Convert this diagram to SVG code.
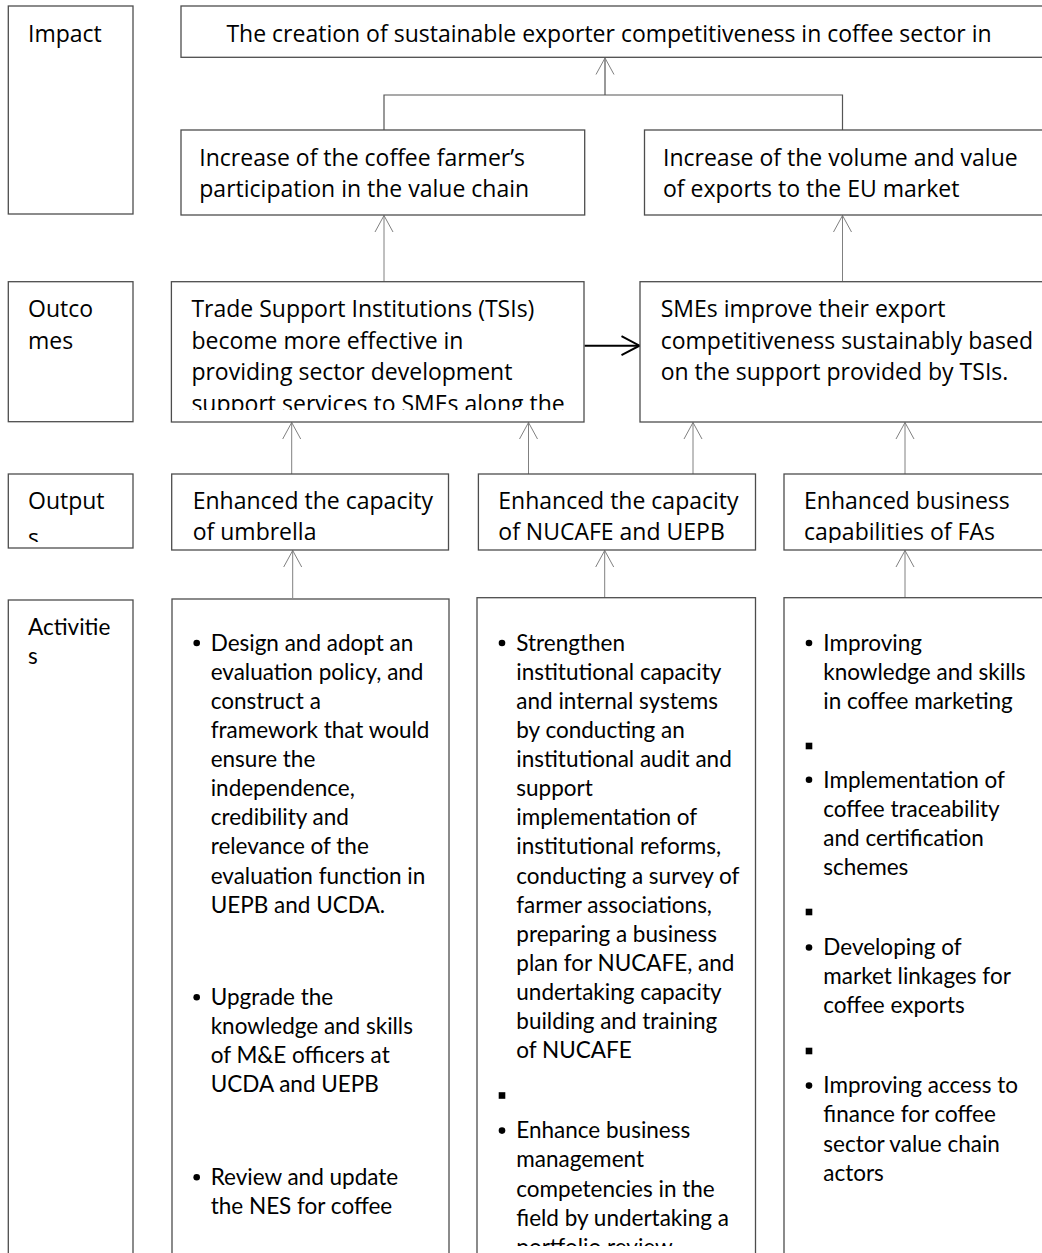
<svg xmlns="http://www.w3.org/2000/svg" width="1042" height="1253" viewBox="0 0 1042 1253">
<style>
.box{fill:#fff;stroke:#4d4d4d;stroke-width:1.3}
.t{font-family:"Open Sans","Noto Sans",sans-serif;font-size:23px;fill:#000}
.a{font-family:Lato,"Open Sans",sans-serif;font-size:22.5px;fill:#000}
.con{fill:none;stroke:#808080;stroke-width:1}
.dk{fill:none;stroke:#555;stroke-width:1.2}
.bl{fill:#000}
</style>
<defs>
<marker id="ah" markerUnits="userSpaceOnUse" orient="auto" overflow="visible" markerWidth="20" markerHeight="20" refX="0" refY="0">
<path d="M-16.5,-9 L0,0 L-16.5,9" fill="none" stroke="#808080" stroke-width="1"/>
</marker>
<marker id="ahb" markerUnits="userSpaceOnUse" orient="auto" overflow="visible" markerWidth="24" markerHeight="24" refX="0" refY="0">
<path d="M-18,-9.5 L0,0 L-18,9.5" fill="none" stroke="#000" stroke-width="2"/>
</marker>
<clipPath id="cOut1"><rect x="172" y="282" width="412" height="128"/></clipPath>
<clipPath id="cOutLbl"><rect x="8" y="474" width="125" height="68"/></clipPath>
<clipPath id="cOutputs"><rect x="170" y="474" width="880" height="69"/></clipPath>
<clipPath id="cAct2"><rect x="477" y="598" width="279" height="648"/></clipPath>
</defs>

<g id="connectors">
<path class="dk" d="M384,130 V95 H842.5 V130"/>
<line class="dk" x1="605" y1="95" x2="605" y2="58" marker-end="url(#ah)"/>
<line class="con" x1="384" y1="281.7" x2="384" y2="215.5" marker-end="url(#ah)"/>
<line class="con" x1="842.5" y1="281.7" x2="842.5" y2="215.5" marker-end="url(#ah)"/>
<line class="con" x1="291.7" y1="474" x2="291.7" y2="422.5" marker-end="url(#ah)"/>
<line class="con" x1="528.5" y1="474" x2="528.5" y2="422.5" marker-end="url(#ah)"/>
<line class="con" x1="693" y1="474" x2="693" y2="422.5" marker-end="url(#ah)"/>
<line class="con" x1="905" y1="474" x2="905" y2="422.5" marker-end="url(#ah)"/>
<line class="con" x1="292.7" y1="598" x2="292.7" y2="550.5" marker-end="url(#ah)"/>
<line class="con" x1="604.7" y1="598" x2="604.7" y2="550.5" marker-end="url(#ah)"/>
<line class="con" x1="905" y1="598" x2="905" y2="550.5" marker-end="url(#ah)"/>
<line x1="584.5" y1="345.7" x2="639.5" y2="345.7" stroke="#000" stroke-width="2" marker-end="url(#ahb)"/>
</g>

<g id="lbl-impact">
<rect class="box" x="8.3" y="6" width="124.7" height="208"/>
<text class="t" x="28" y="42">Impact</text>
</g>
<g id="impact-main">
<rect class="box" x="181" y="6" width="870" height="51.3"/>
<text class="t" x="609" y="42" text-anchor="middle">The creation of sustainable exporter competitiveness in coffee sector in</text>
</g>
<g id="impact-1">
<rect class="box" x="181" y="130" width="403.7" height="85"/>
<text class="t" x="199.3" y="166">Increase of the coffee farmer’s</text>
<text class="t" x="199.3" y="197">participation in the value chain</text>
</g>
<g id="impact-2">
<rect class="box" x="644.5" y="130" width="406" height="85"/>
<text class="t" x="663" y="166">Increase of the volume and value</text>
<text class="t" x="663" y="197">of exports to the EU market</text>
</g>

<g id="lbl-outcomes">
<rect class="box" x="8.3" y="281.7" width="124.7" height="140"/>
<text class="t" x="28" y="317">Outco</text>
<text class="t" x="28" y="348.5">mes</text>
</g>
<g id="outcome-1">
<rect class="box" x="171.4" y="281.7" width="412.6" height="140.3"/>
<g clip-path="url(#cOut1)">
<text class="t" x="191.4" y="317">Trade Support Institutions (TSIs)</text>
<text class="t" x="191.4" y="348.5">become more effective in</text>
<text class="t" x="191.4" y="380">providing sector development</text>
<text class="t" x="191.4" y="411.5">support services to SMEs along the</text>
</g>
</g>
<g id="outcome-2">
<rect class="box" x="640" y="281.7" width="410" height="140.3"/>
<text class="t" x="660.7" y="317">SMEs improve their export</text>
<text class="t" x="660.7" y="348.5">competitiveness sustainably based</text>
<text class="t" x="660.7" y="380">on the support provided by TSIs.</text>
</g>

<g id="lbl-outputs">
<rect class="box" x="8.3" y="474" width="124.7" height="74"/>
<g clip-path="url(#cOutLbl)">
<text class="t" x="28" y="509">Output</text>
<text class="t" x="28" y="546">s</text>
</g>
</g>
<g id="output-1">
<rect class="box" x="171.7" y="474" width="276.8" height="76"/>
<g clip-path="url(#cOutputs)">
<text class="t" x="192.7" y="509">Enhanced the capacity</text>
<text class="t" x="192.7" y="540">of umbrella</text>
</g>
</g>
<g id="output-2">
<rect class="box" x="478.4" y="474" width="277.1" height="76"/>
<g clip-path="url(#cOutputs)">
<text class="t" x="498.3" y="509">Enhanced the capacity</text>
<text class="t" x="498.3" y="540">of NUCAFE and UEPB</text>
</g>
</g>
<g id="output-3">
<rect class="box" x="784" y="474" width="266" height="76"/>
<g clip-path="url(#cOutputs)">
<text class="t" x="804" y="509">Enhanced business</text>
<text class="t" x="804" y="540">capabilities of FAs</text>
</g>
</g>

<g id="lbl-activities">
<rect class="box" x="8.3" y="600" width="124.7" height="670"/>
<text class="a" x="28" y="635">Activitie</text>
<text class="a" x="28" y="664">s</text>
</g>

<g id="activity-1">
<rect class="box" x="172" y="599" width="277" height="670"/>
<circle class="bl" cx="196.7" cy="643" r="3.3"/>
<text class="a" x="210.7" y="650.7">Design and adopt an</text>
<text class="a" x="210.7" y="679.8">evaluation policy, and</text>
<text class="a" x="210.7" y="708.9">construct a</text>
<text class="a" x="210.7" y="738">framework that would</text>
<text class="a" x="210.7" y="767.1">ensure the</text>
<text class="a" x="210.7" y="796.2">independence,</text>
<text class="a" x="210.7" y="825.3">credibility and</text>
<text class="a" x="210.7" y="854.4">relevance of the</text>
<text class="a" x="210.7" y="883.5">evaluation function in</text>
<text class="a" x="210.7" y="912.6">UEPB and UCDA.</text>
<circle class="bl" cx="196.7" cy="997.3" r="3.3"/>
<text class="a" x="210.7" y="1005">Upgrade the</text>
<text class="a" x="210.7" y="1034.1">knowledge and skills</text>
<text class="a" x="210.7" y="1063.2">of M&amp;E officers at</text>
<text class="a" x="210.7" y="1092.3">UCDA and UEPB</text>
<circle class="bl" cx="196.7" cy="1177.3" r="3.3"/>
<text class="a" x="210.7" y="1185">Review and update</text>
<text class="a" x="210.7" y="1214.1">the NES for coffee</text>
</g>

<g id="activity-2">
<rect class="box" x="477" y="597.7" width="278.5" height="670"/>
<g clip-path="url(#cAct2)">
<circle class="bl" cx="502" cy="643" r="3.3"/>
<text class="a" x="516.3" y="650.7">Strengthen</text>
<text class="a" x="516.3" y="679.8">institutional capacity</text>
<text class="a" x="516.3" y="708.9">and internal systems</text>
<text class="a" x="516.3" y="738">by conducting an</text>
<text class="a" x="516.3" y="767.1">institutional audit and</text>
<text class="a" x="516.3" y="796.2">support</text>
<text class="a" x="516.3" y="825.3">implementation of</text>
<text class="a" x="516.3" y="854.4">institutional reforms,</text>
<text class="a" x="516.3" y="883.5">conducting a survey of</text>
<text class="a" x="516.3" y="912.6">farmer associations,</text>
<text class="a" x="516.3" y="941.7">preparing a business</text>
<text class="a" x="516.3" y="970.8">plan for NUCAFE, and</text>
<text class="a" x="516.3" y="999.9">undertaking capacity</text>
<text class="a" x="516.3" y="1029">building and training</text>
<text class="a" x="516.3" y="1058.1">of NUCAFE</text>
<rect class="bl" x="498.7" y="1092.2" width="6.6" height="6.6"/>
<circle class="bl" cx="502" cy="1130.6" r="3.3"/>
<text class="a" x="516.3" y="1138.3">Enhance business</text>
<text class="a" x="516.3" y="1167.4">management</text>
<text class="a" x="516.3" y="1196.5">competencies in the</text>
<text class="a" x="516.3" y="1225.6">field by undertaking a</text>
<text class="a" x="516.3" y="1254.7">portfolio review</text>
</g>
</g>

<g id="activity-3">
<rect class="box" x="784" y="597.7" width="266" height="670"/>
<circle class="bl" cx="809" cy="643" r="3.3"/>
<text class="a" x="823.3" y="650.7">Improving</text>
<text class="a" x="823.3" y="679.8">knowledge and skills</text>
<text class="a" x="823.3" y="708.9">in coffee marketing</text>
<rect class="bl" x="805.7" y="742.7" width="6.6" height="6.6"/>
<circle class="bl" cx="809" cy="779.8" r="3.3"/>
<text class="a" x="823.3" y="787.5">Implementation of</text>
<text class="a" x="823.3" y="816.6">coffee traceability</text>
<text class="a" x="823.3" y="845.7">and certification</text>
<text class="a" x="823.3" y="874.8">schemes</text>
<rect class="bl" x="805.7" y="908.7" width="6.6" height="6.6"/>
<circle class="bl" cx="809" cy="947.5" r="3.3"/>
<text class="a" x="823.3" y="955.2">Developing of</text>
<text class="a" x="823.3" y="984.3">market linkages for</text>
<text class="a" x="823.3" y="1013.4">coffee exports</text>
<rect class="bl" x="805.7" y="1047.7" width="6.6" height="6.6"/>
<circle class="bl" cx="809" cy="1085.6" r="3.3"/>
<text class="a" x="823.3" y="1093.3">Improving access to</text>
<text class="a" x="823.3" y="1122.4">finance for coffee</text>
<text class="a" x="823.3" y="1151.5">sector value chain</text>
<text class="a" x="823.3" y="1180.6">actors</text>
</g>
</svg>
